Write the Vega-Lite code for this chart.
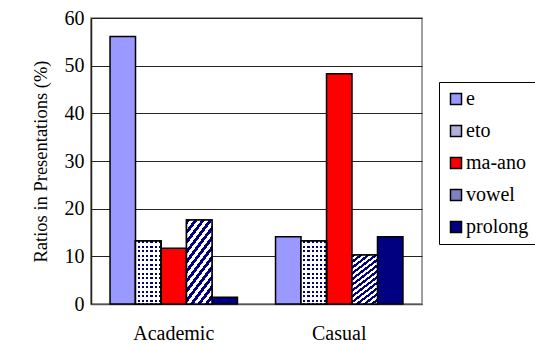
{
  "$schema": "https://vega.github.io/schema/vega-lite/v6.json",
  "width": 331,
  "height": 286,
  "autosize": {"type": "none"},
  "padding": {"left": 91, "top": 18, "right": 113, "bottom": 41},
  "background": "white",
  "config": {
    "font": "Liberation Serif",
    "view": {"stroke": "#808080", "strokeWidth": 1.5}
  },
  "data": {
    "values": [
      {"style": "Academic", "marker": "e", "ratio": 56.1},
      {"style": "Academic", "marker": "eto", "ratio": 13.2},
      {"style": "Academic", "marker": "ma-ano", "ratio": 11.7},
      {"style": "Academic", "marker": "vowel", "ratio": 17.6},
      {"style": "Academic", "marker": "prolong", "ratio": 1.4},
      {"style": "Casual", "marker": "e", "ratio": 14.1},
      {"style": "Casual", "marker": "eto", "ratio": 13.2},
      {"style": "Casual", "marker": "ma-ano", "ratio": 48.3},
      {"style": "Casual", "marker": "vowel", "ratio": 10.3},
      {"style": "Casual", "marker": "prolong", "ratio": 14.1}
    ]
  },
  "encoding": {
    "x": {
      "field": "style",
      "type": "nominal",
      "sort": ["Academic", "Casual"],
      "scale": {"paddingInner": 0.23, "paddingOuter": 0.115},
      "axis": {
        "title": null,
        "labelAngle": 0,
        "labelFont": "Liberation Serif",
        "labelFontSize": 20,
        "labelColor": "black",
        "labelPadding": 19,
        "domainColor": "#555555",
        "domainWidth": 1.5,
        "ticks": false
      }
    },
    "xOffset": {
      "field": "marker",
      "type": "nominal",
      "sort": ["e", "eto", "ma-ano", "vowel", "prolong"],
      "scale": {"paddingInner": 0, "paddingOuter": 0}
    },
    "y": {
      "field": "ratio",
      "type": "quantitative",
      "scale": {"domain": [0, 60], "nice": false},
      "axis": {
        "title": "Ratios in Presentations (%)",
        "titleFont": "Liberation Serif",
        "titleFontSize": 18.5,
        "titleFontWeight": "normal",
        "titleColor": "black",
        "titlePadding": 14,
        "values": [0, 10, 20, 30, 40, 50, 60],
        "labelFont": "Liberation Serif",
        "labelFontSize": 20,
        "labelColor": "black",
        "labelPadding": 7,
        "ticks": false,
        "domainColor": "#222222",
        "domainWidth": 1.5,
        "grid": true,
        "gridColor": "#222222",
        "gridWidth": 1
      }
    }
  },
  "layer": [
    {
      "mark": {"type": "bar", "stroke": "black", "strokeWidth": 1.5},
      "encoding": {
        "fill": {
          "field": "marker",
          "type": "nominal",
          "sort": ["e", "eto", "ma-ano", "vowel", "prolong"],
          "scale": {
            "domain": ["e", "eto", "ma-ano", "vowel", "prolong"],
            "range": ["#9999FF", "#B0B0D8", "#FF0000", "#8080C0", "#000080"]
          },
          "legend": {
            "title": null,
            "orient": "none",
            "legendX": 348,
            "legendY": 64,
            "padding": 7,
            "strokeColor": "black",
            "fillColor": "white",
            "symbolType": "square",
            "symbolSize": 121,
            "symbolStrokeColor": "black",
            "symbolStrokeWidth": 1.5,
            "labelFont": "Liberation Serif",
            "labelFontSize": 20,
            "labelColor": "black",
            "labelOffset": 0,
            "rowPadding": 12
          }
        }
      }
    },
    {
      "transform": [{"filter": "datum.marker === 'eto'"}],
      "mark": {
        "type": "bar",
        "stroke": "black",
        "strokeWidth": 1.5,
        "fill": {
          "gradient": "linear", "x1": 0, "y1": 0, "x2": 0, "y2": 1,
          "stops": [
            {"offset": 0, "color": "#000080"}, {"offset": 0.0357, "color": "#000080"}, {"offset": 0.0357, "color": "white"}, {"offset": 0.0714, "color": "white"},
            {"offset": 0.0714, "color": "#000080"}, {"offset": 0.1071, "color": "#000080"}, {"offset": 0.1071, "color": "white"}, {"offset": 0.1429, "color": "white"},
            {"offset": 0.1429, "color": "#000080"}, {"offset": 0.1786, "color": "#000080"}, {"offset": 0.1786, "color": "white"}, {"offset": 0.2143, "color": "white"},
            {"offset": 0.2143, "color": "#000080"}, {"offset": 0.25, "color": "#000080"}, {"offset": 0.25, "color": "white"}, {"offset": 0.2857, "color": "white"},
            {"offset": 0.2857, "color": "#000080"}, {"offset": 0.3214, "color": "#000080"}, {"offset": 0.3214, "color": "white"}, {"offset": 0.3571, "color": "white"},
            {"offset": 0.3571, "color": "#000080"}, {"offset": 0.3929, "color": "#000080"}, {"offset": 0.3929, "color": "white"}, {"offset": 0.4286, "color": "white"},
            {"offset": 0.4286, "color": "#000080"}, {"offset": 0.4643, "color": "#000080"}, {"offset": 0.4643, "color": "white"}, {"offset": 0.5, "color": "white"},
            {"offset": 0.5, "color": "#000080"}, {"offset": 0.5357, "color": "#000080"}, {"offset": 0.5357, "color": "white"}, {"offset": 0.5714, "color": "white"},
            {"offset": 0.5714, "color": "#000080"}, {"offset": 0.6071, "color": "#000080"}, {"offset": 0.6071, "color": "white"}, {"offset": 0.6429, "color": "white"},
            {"offset": 0.6429, "color": "#000080"}, {"offset": 0.6786, "color": "#000080"}, {"offset": 0.6786, "color": "white"}, {"offset": 0.7143, "color": "white"},
            {"offset": 0.7143, "color": "#000080"}, {"offset": 0.75, "color": "#000080"}, {"offset": 0.75, "color": "white"}, {"offset": 0.7857, "color": "white"},
            {"offset": 0.7857, "color": "#000080"}, {"offset": 0.8214, "color": "#000080"}, {"offset": 0.8214, "color": "white"}, {"offset": 0.8571, "color": "white"},
            {"offset": 0.8571, "color": "#000080"}, {"offset": 0.8929, "color": "#000080"}, {"offset": 0.8929, "color": "white"}, {"offset": 0.9286, "color": "white"},
            {"offset": 0.9286, "color": "#000080"}, {"offset": 0.9643, "color": "#000080"}, {"offset": 0.9643, "color": "white"}, {"offset": 1, "color": "white"}
          ]
        }
      }
    },
    {
      "transform": [{"filter": "datum.marker === 'eto'"}],
      "mark": {
        "type": "bar",
        "stroke": "black",
        "strokeWidth": 1.5,
        "fill": {
          "gradient": "linear", "x1": 0, "y1": 0, "x2": 1, "y2": 0,
          "stops": [
            {"offset": 0, "color": "white"}, {"offset": 0.0833, "color": "white"}, {"offset": 0.0833, "color": "rgba(255,255,255,0)"}, {"offset": 0.1667, "color": "rgba(255,255,255,0)"},
            {"offset": 0.1667, "color": "white"}, {"offset": 0.25, "color": "white"}, {"offset": 0.25, "color": "rgba(255,255,255,0)"}, {"offset": 0.3333, "color": "rgba(255,255,255,0)"},
            {"offset": 0.3333, "color": "white"}, {"offset": 0.4167, "color": "white"}, {"offset": 0.4167, "color": "rgba(255,255,255,0)"}, {"offset": 0.5, "color": "rgba(255,255,255,0)"},
            {"offset": 0.5, "color": "white"}, {"offset": 0.5833, "color": "white"}, {"offset": 0.5833, "color": "rgba(255,255,255,0)"}, {"offset": 0.6667, "color": "rgba(255,255,255,0)"},
            {"offset": 0.6667, "color": "white"}, {"offset": 0.75, "color": "white"}, {"offset": 0.75, "color": "rgba(255,255,255,0)"}, {"offset": 0.8333, "color": "rgba(255,255,255,0)"},
            {"offset": 0.8333, "color": "white"}, {"offset": 0.9167, "color": "white"}, {"offset": 0.9167, "color": "rgba(255,255,255,0)"}, {"offset": 1, "color": "rgba(255,255,255,0)"}
          ]
        }
      }
    },
    {
      "transform": [{"filter": "datum.marker === 'vowel'"}],
      "mark": {
        "type": "bar",
        "stroke": "black",
        "strokeWidth": 1.5,
        "fill": {
          "gradient": "linear", "x1": 0, "y1": 0, "x2": 0.483, "y2": 1.207,
          "stops": [
            {"offset": 0, "color": "#000080"}, {"offset": 0.0417, "color": "#000080"}, {"offset": 0.0417, "color": "white"}, {"offset": 0.0833, "color": "white"},
            {"offset": 0.0833, "color": "#000080"}, {"offset": 0.125, "color": "#000080"}, {"offset": 0.125, "color": "white"}, {"offset": 0.1667, "color": "white"},
            {"offset": 0.1667, "color": "#000080"}, {"offset": 0.2083, "color": "#000080"}, {"offset": 0.2083, "color": "white"}, {"offset": 0.25, "color": "white"},
            {"offset": 0.25, "color": "#000080"}, {"offset": 0.2917, "color": "#000080"}, {"offset": 0.2917, "color": "white"}, {"offset": 0.3333, "color": "white"},
            {"offset": 0.3333, "color": "#000080"}, {"offset": 0.375, "color": "#000080"}, {"offset": 0.375, "color": "white"}, {"offset": 0.4167, "color": "white"},
            {"offset": 0.4167, "color": "#000080"}, {"offset": 0.4583, "color": "#000080"}, {"offset": 0.4583, "color": "white"}, {"offset": 0.5, "color": "white"},
            {"offset": 0.5, "color": "#000080"}, {"offset": 0.5417, "color": "#000080"}, {"offset": 0.5417, "color": "white"}, {"offset": 0.5833, "color": "white"},
            {"offset": 0.5833, "color": "#000080"}, {"offset": 0.625, "color": "#000080"}, {"offset": 0.625, "color": "white"}, {"offset": 0.6667, "color": "white"},
            {"offset": 0.6667, "color": "#000080"}, {"offset": 0.7083, "color": "#000080"}, {"offset": 0.7083, "color": "white"}, {"offset": 0.75, "color": "white"},
            {"offset": 0.75, "color": "#000080"}, {"offset": 0.7917, "color": "#000080"}, {"offset": 0.7917, "color": "white"}, {"offset": 0.8333, "color": "white"},
            {"offset": 0.8333, "color": "#000080"}, {"offset": 0.875, "color": "#000080"}, {"offset": 0.875, "color": "white"}, {"offset": 0.9167, "color": "white"},
            {"offset": 0.9167, "color": "#000080"}, {"offset": 0.9583, "color": "#000080"}, {"offset": 0.9583, "color": "white"}, {"offset": 1, "color": "white"}
          ]
        }
      }
    }
  ]
}
